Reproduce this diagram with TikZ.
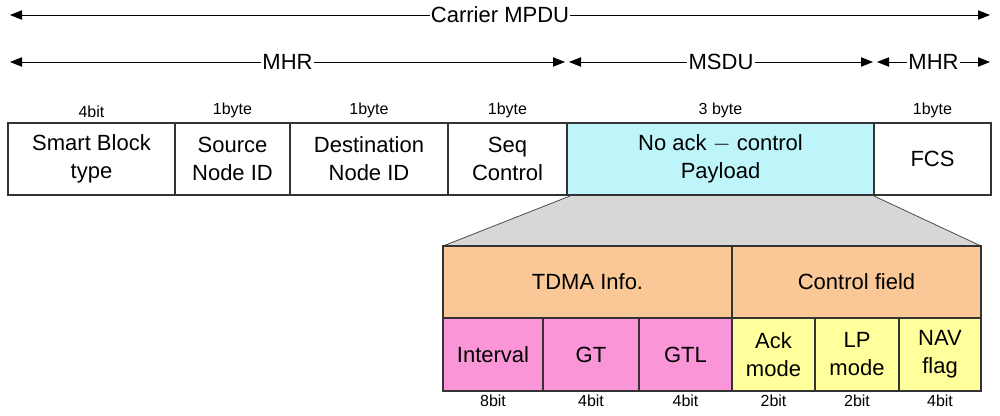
\documentclass[tikz,border=0pt]{standalone}
\usepackage{fontspec}
\setmainfont{Liberation Sans}
\usetikzlibrary{arrows.meta}
\definecolor{cy}{RGB}{190,245,250}
\definecolor{org}{RGB}{250,200,150}
\definecolor{pnk}{RGB}{250,150,215}
\definecolor{yel}{RGB}{255,255,155}
\definecolor{fan}{RGB}{215,215,215}
\begin{document}
\begin{tikzpicture}[x=0.75pt,y=-0.75pt,
 box/.style={draw=black!80,line width=0.8pt,align=center,anchor=north west,inner sep=0pt,outer sep=0pt,font=\fontsize{16.5}{21}\selectfont},
 w/.style={minimum width=#1*0.75pt},
 h/.style={minimum height=#1*0.75pt},
 sz/.style={font=\fontsize{12}{14}\selectfont,inner sep=1pt},
 span/.style={{Triangle[length=9pt,width=7pt]}-{Triangle[length=9pt,width=7pt]},line width=0.6pt},
 lab/.style={fill=white,font=\fontsize{16.5}{19}\selectfont,inner sep=1pt}]
\useasboundingbox (0,0) rectangle (1000,415);
% spans
\coordinate (a1) at (10,15); \coordinate (a2) at (990,15);
\draw[span] (a1) -- (a2) node[lab,midway] {Carrier MPDU};
\coordinate (b1) at (10,62); \coordinate (b2) at (565,62);
\coordinate (b3) at (569,62); \coordinate (b4) at (873,62);
\coordinate (b5) at (877,62); \coordinate (b6) at (990,62);
\draw[span] (b1) -- (b2) node[lab,midway] {MHR};
\draw[span] (b3) -- (b4) node[lab,midway] {MSDU};
\draw[span] (b5) -- (b6) node[lab,midway] {MHR};
% fan
\fill[fan] (570,196) -- (874,196) -- (981,246) -- (443,246) -- cycle;
\draw[black!70,line width=0.6pt] (570,196) -- (443,246) (874,196) -- (981,246);
% main row
\node[box,w=167,h=72] (f1) at (8,123) {Smart Block\\type};
\node[box,w=115,h=72] (f2) at (175,123) {Source\\Node ID};
\node[box,w=158,h=72] (f3) at (290,123) {Destination\\Node ID};
\node[box,w=119,h=72] (f4) at (448,123) {Seq\\Control};
\node[box,fill=cy,w=307,h=72] (f5) at (567,123) {No ack $-$ control\\Payload};
\node[box,w=117,h=72] (f6) at (874,123) {FCS};
\foreach \n/\t in {f1/4bit,f2/1byte,f3/1byte,f4/1byte,f5/3 byte,f6/1byte}
  \node[sz,anchor=south] at (\n.north) [yshift=3] {\t};
% lower
\node[box,fill=org,w=289,h=72] (t1) at (443,246) {TDMA Info.};
\node[box,fill=org,w=249,h=72] (t2) at (732,246) {Control field};
\node[box,fill=pnk,w=100,h=73] (s1) at (443,318) {Interval};
\node[box,fill=pnk,w=96,h=73] (s2) at (543,318) {GT};
\node[box,fill=pnk,w=93,h=73] (s3) at (639,318) {GTL};
\node[box,fill=yel,w=83,h=73] (s4) at (732,318) {Ack\\mode};
\node[box,fill=yel,w=84,h=73] (s5) at (815,318) {LP\\mode};
\node[box,fill=yel,w=82,h=73] (s6) at (899,318) {NAV\\flag};
\foreach \n/\t in {s1/8bit,s2/4bit,s3/4bit,s4/2bit,s5/2bit,s6/4bit}
  \node[sz,anchor=north] at (\n.south) [yshift=-2] {\t};
\end{tikzpicture}
\end{document}
